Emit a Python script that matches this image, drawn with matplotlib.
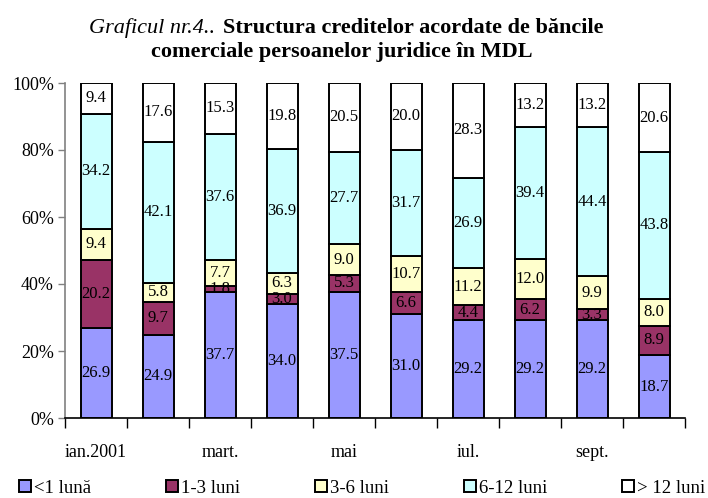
import numpy as np
import matplotlib
matplotlib.use("Agg")
import matplotlib.pyplot as plt
from matplotlib.patches import Patch

# --- DATE ---
luni = ["ian.2001", "febr.", "mart.", "apr.", "mai", "iun.", "iul.", "aug.", "sept.", "oct."]
etichete_x = ["ian.2001", "", "mart.", "", "mai", "", "iul.", "", "sept.", ""]

serii = ["<1 lună", "1-3 luni", "3-6 luni", "6-12 luni", "> 12 luni"]
sub_1_luna = [26.9, 24.9, 37.7, 34.0, 37.5, 31.0, 29.2, 29.2, 29.2, 18.7]
luni_1_3 = [20.2, 9.7, 1.8, 3.0, 5.3, 6.6, 4.4, 6.2, 3.3, 8.9]
luni_3_6 = [9.4, 5.8, 7.7, 6.3, 9.0, 10.7, 11.2, 12.0, 9.9, 8.0]
luni_6_12 = [34.2, 42.1, 37.6, 36.9, 27.7, 31.7, 26.9, 39.4, 44.4, 43.8]
peste_12 = [9.4, 17.6, 15.3, 19.8, 20.5, 20.0, 28.3, 13.2, 13.2, 20.6]

culori = ["#9999FF", "#993366", "#FFFFCC", "#CCFFFF", "#FFFFFF"]

plt.rcParams["font.family"] = ["Liberation Serif", "DejaVu Serif"]

fig = plt.figure(figsize=(7.08, 4.98), dpi=100)
ax = fig.add_axes([65 / 708, 1 - 418 / 498, 620 / 708, 335 / 498])

x = np.arange(len(luni))
baza = np.zeros(len(luni))
for nume, valori, culoare in zip(serii, [sub_1_luna, luni_1_3, luni_3_6, luni_6_12, peste_12], culori):
    valori = np.array(valori)
    ax.bar(x, valori, 0.5, bottom=baza, color=culoare, edgecolor="black", linewidth=1.4, zorder=2)
    for xi, b, v in zip(x, baza, valori):
        ax.text(xi, b + v / 2, f"{v:.1f}", ha="center", va="center", fontsize=12, zorder=3)
    baza += valori

ax.set_xlim(-0.5, len(luni) - 0.5)
ax.set_ylim(0, 100)
ax.set_yticks(np.arange(0, 101, 20))
ax.set_yticklabels([f"{v}%" for v in range(0, 101, 20)], fontsize=13)

# ticks la granitele categoriilor, etichete la centre
ax.set_xticks(np.arange(-0.5, len(luni), 1))
ax.set_xticklabels([])
ax.set_xticks(x, minor=True)
ax.set_xticklabels(etichete_x, minor=True, fontsize=13)
ax.tick_params(axis="x", which="major", length=7, width=1, direction="out", color="black")
ax.tick_params(axis="x", which="minor", length=0, pad=19)
ax.tick_params(axis="y", length=5, width=1, color="#808080", pad=3)

for s in ["top", "right"]:
    ax.spines[s].set_visible(False)
ax.spines["left"].set_color("#808080")
ax.spines["left"].set_linewidth(1.2)
ax.spines["bottom"].set_linewidth(1.2)

# --- TITLU ---
fig.text(215 / 708, 1 - 33 / 498, "Graficul nr.4..", ha="right", va="baseline",
         fontsize=16, style="italic")
fig.text(223 / 708, 1 - 33 / 498, "Structura creditelor acordate de băncile", ha="left",
         va="baseline", fontsize=16, fontweight="bold")
fig.text(342 / 708, 1 - 57 / 498, "comerciale persoanelor juridice în MDL", ha="center",
         va="baseline", fontsize=16, fontweight="bold")

# --- LEGENDA ---
handles = [Patch(facecolor=c, edgecolor="black", linewidth=1.4) for c in culori]
fig.legend(handles, serii, loc="center", bbox_to_anchor=(362 / 708, 1 - 488 / 498), ncol=5,
           frameon=False, fontsize=13.5, handlelength=0.65, handleheight=0.65,
           handletextpad=0.15, columnspacing=4.0, borderpad=0, borderaxespad=0)

fig.savefig("out.png", dpi=100)
